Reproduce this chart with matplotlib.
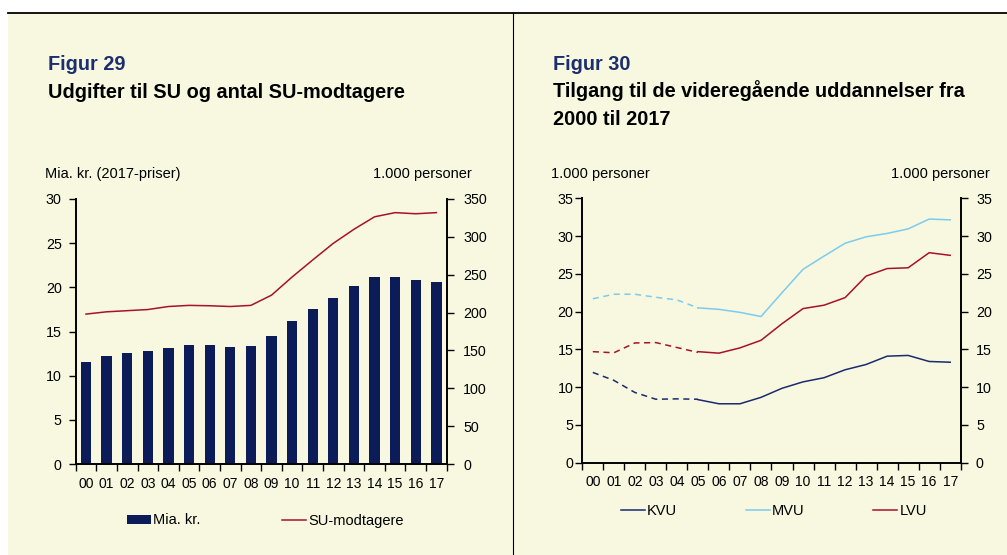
import matplotlib
matplotlib.use('Agg')
import matplotlib.pyplot as plt
from matplotlib.lines import Line2D
from matplotlib.patches import Rectangle
import numpy as np

plt.rcParams['font.family'] = ['Liberation Sans', 'DejaVu Sans']

years = ['00', '01', '02', '03', '04', '05', '06', '07', '08',
         '09', '10', '11', '12', '13', '14', '15', '16', '17']

# Figur 29
su_mia = [11.6, 12.2, 12.6, 12.75, 13.1, 13.45, 13.5, 13.3, 13.4,
          14.5, 16.2, 17.6, 18.8, 20.1, 21.2, 21.2, 20.8, 20.6]
su_modt = [198, 201, 202.5, 204, 208, 209.5, 209, 208, 209.5,
           223, 247, 269.5, 291.5, 310, 326.5, 332, 330.5, 332]

# Figur 30 (dashed 00-05, solid 05-17)
kvu_old = [11.95, 10.9, 9.3, 8.4, 8.45, 8.4]
kvu = [8.35, 7.8, 7.8, 8.65, 9.85, 10.7, 11.25, 12.3, 13.0, 14.1, 14.2, 13.4, 13.3]
mvu_old = [21.7, 22.3, 22.3, 21.9, 21.55, 20.5]
mvu = [20.5, 20.3, 19.9, 19.35, 22.5, 25.6, 27.35, 29.05, 29.9, 30.35, 30.95, 32.25, 32.15]
lvu_old = [14.7, 14.55, 15.85, 15.9, 15.25, 14.6]
lvu = [14.7, 14.5, 15.2, 16.2, 18.4, 20.4, 20.85, 21.85, 24.7, 25.7, 25.8, 27.8, 27.45]

W, H = 1007, 555
bg = '#f8f8e1'
navy = '#0b1c58'
red = '#a8102e'
lblue = '#7ccbee'
kvu_col = '#1a2a6c'
title_col = '#1b2f6e'

fig = plt.figure(figsize=(W / 100, H / 100), dpi=100, facecolor='white')
fig.add_artist(Rectangle((8 / W, 0), 1 - 8 / W, 1 - 14 / H, transform=fig.transFigure,
                         facecolor=bg, edgecolor='none', zorder=-10))
fig.add_artist(Line2D([8 / W, 1], [1 - 13 / H, 1 - 13 / H], transform=fig.transFigure,
                      color='black', lw=1.3))
fig.add_artist(Line2D([513 / W, 513 / W], [0, 1 - 13 / H], transform=fig.transFigure,
                      color='black', lw=0.8))


def px(x, y):
    return x / W, 1 - y / H


def ftext(x, y, s, **kw):
    fx, fy = px(x, y)
    fig.text(fx, fy, s, va='baseline', **kw)


def style(ax, axr):
    for a in (ax, axr):
        a.set_facecolor('none')
        a.spines['top'].set_visible(False)
        for s in ('left', 'right', 'bottom'):
            a.spines[s].set_linewidth(1.4)
    ax.spines['right'].set_visible(False)
    axr.spines['left'].set_visible(False)
    axr.spines['bottom'].set_visible(False)
    ax.set_xlim(-0.5, 17.5)
    ax.set_xticks(np.arange(-0.5, 18, 1))
    ax.set_xticklabels([])
    ax.set_xticks(np.arange(18), years, minor=True)
    ax.tick_params(axis='x', which='major', length=5, width=1, direction='out')
    ax.tick_params(axis='x', which='minor', length=0, pad=9, labelsize=10)


# ---- Figur 29 ----
ax1 = fig.add_axes([75.7 / W, 1 - 464 / H, 371 / W, 265 / H])
ax1r = ax1.twinx()
ax1.bar(np.arange(18), su_mia, width=0.5, color=navy, label='Mia. kr.', zorder=2)
ax1r.plot(np.arange(18), su_modt, color=red, lw=1.1, label='SU-modtagere')
style(ax1, ax1r)
ax1.set_ylim(0, 30)
ax1.set_yticks(range(0, 31, 5))
ax1r.set_ylim(0, 350)
ax1r.set_yticks(range(0, 351, 50))
ax1.tick_params(axis='y', length=5, width=1, pad=5, labelsize=10.3)
ax1r.tick_params(axis='y', length=5, width=1, pad=7, labelsize=10.3)

ftext(47.7, 69.5, 'Figur 29', fontsize=14.3, fontweight='bold', color=title_col)
ftext(47.7, 97.5, 'Udgifter til SU og antal SU-modtagere', fontsize=14.3, fontweight='bold')
ftext(45, 178, 'Mia. kr. (2017-priser)', fontsize=10.5)
ftext(471.7, 178, '1.000 personer', fontsize=10.5, ha='right')

h1, l1 = ax1.get_legend_handles_labels()
h2, l2 = ax1r.get_legend_handles_labels()
ax1.legend(h1 + h2, l1 + l2, ncol=2, loc='center left', frameon=False,
           bbox_to_anchor=px(127, 520.5), bbox_transform=fig.transFigure,
           borderaxespad=0, borderpad=0, fontsize=10.5, handlelength=1.65,
           handleheight=0.6, handletextpad=0.15, columnspacing=5.6)

# ---- Figur 30 ----
ax2 = fig.add_axes([582.3 / W, 1 - 462.7 / H, 378.4 / W, 264.4 / H])
ax2r = ax2.twinx()
x_old = np.arange(6)
x_new = np.arange(5, 18)
ax2.plot(x_old, kvu_old, color=kvu_col, lw=1.1, ls=(0, (4, 3)))
ax2.plot(x_new, kvu, color=kvu_col, lw=1.1, label='KVU')
ax2.plot(x_old, mvu_old, color=lblue, lw=1.1, ls=(0, (4, 3)))
ax2.plot(x_new, mvu, color=lblue, lw=1.1, label='MVU')
ax2.plot(x_old, lvu_old, color=red, lw=1.1, ls=(0, (4, 3)))
ax2.plot(x_new, lvu, color=red, lw=1.1, label='LVU')
style(ax2, ax2r)
for a in (ax2, ax2r):
    a.set_ylim(0, 35)
    a.set_yticks(range(0, 36, 5))
ax2.tick_params(axis='y', length=5, width=1, pad=1.5, labelsize=10.3)
ax2r.tick_params(axis='y', length=5, width=1, pad=6, labelsize=10.3)

ftext(553.3, 69.5, 'Figur 30', fontsize=14.3, fontweight='bold', color=title_col)
ftext(553.3, 97.3, 'Tilgang til de videregående uddannelser fra', fontsize=14.3, fontweight='bold')
ftext(553.3, 125.3, '2000 til 2017', fontsize=14.3, fontweight='bold')
ftext(550.7, 177.5, '1.000 personer', fontsize=10.5)
ftext(990, 177.5, '1.000 personer', fontsize=10.5, ha='right')

ax2.legend(ncol=3, loc='center left', frameon=False,
           bbox_to_anchor=px(621, 511), bbox_transform=fig.transFigure,
           borderaxespad=0, borderpad=0, fontsize=10.5, handlelength=1.65,
           handletextpad=0.15, columnspacing=4.7)

fig.savefig('out.png', dpi=100, facecolor='white')
